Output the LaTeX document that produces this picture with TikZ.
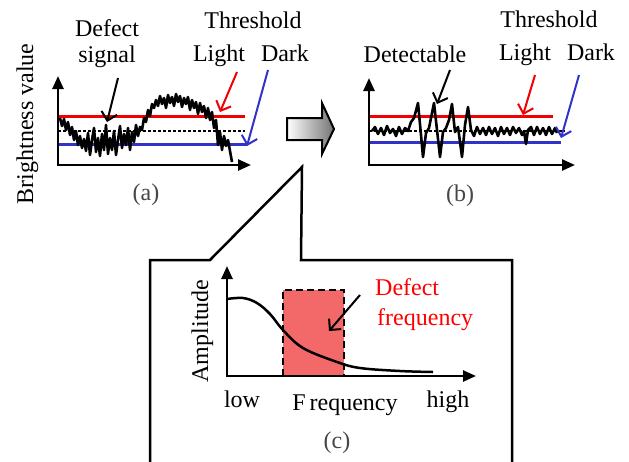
\documentclass[tikz,border=0pt]{standalone}
\usepackage{fontspec}
\setmainfont{Liberation Serif}
\usetikzlibrary{arrows.meta}
\definecolor{thrred}{RGB}{240,0,0}
\definecolor{thrblue}{RGB}{50,50,200}
\definecolor{defred}{RGB}{243,105,105}
\definecolor{lblgray}{RGB}{70,70,70}
\begin{document}
\begin{tikzpicture}[x=1pt,y=-1pt,
  txt/.style={font=\fontsize{24}{26}\selectfont, inner sep=0pt, anchor=base},
  lbl/.style={txt, text=lblgray},
  axis/.style={line width=2.5pt, -{Triangle[length=13pt,width=11pt]}},
  sig/.style={line width=2.6pt, line join=round},
  pointer/.style={line width=2pt, -{Straight Barb[length=8pt,width=16pt,line width=2pt]}},
  thr/.style={line width=3pt},
  callout/.style={line width=2.5pt, line join=miter},
]
\useasboundingbox (0,0) rectangle (629,461);

% ---------- panel (a) ----------
\draw[thr, thrred] (58,116) -- (245,116);
\draw[thr, thrblue] (58,144) -- (247,144);
\draw[line width=2pt, dash pattern=on 2.5pt off 2.5pt] (58,131) -- (245,131);
\draw[sig] (60,118) -- (62,126) -- (64,119) -- (66,130) -- (68,122) -- (70,135) -- (72,127) -- (74,140) -- (76,131) -- (78,145) -- (80,136) -- (82,148) -- (84,139) -- (86,151) -- (88,133) -- (90,155) -- (92,140) -- (94,128) -- (96,152) -- (98,138) -- (100,156) -- (102,134) -- (104,150) -- (106,125) -- (108,154) -- (110,138) -- (112,150) -- (114,131) -- (116,155) -- (118,140) -- (120,126) -- (122,148) -- (124,134) -- (126,145) -- (128,128) -- (130,150) -- (132,132) -- (134,142) -- (136,125) -- (138,136) -- (140,127) -- (142,130) -- (144,118) -- (146,122) -- (148,110) -- (150,116) -- (152,104) -- (154,108) -- (156,100) -- (158,106) -- (160,96) -- (162,104) -- (164,98) -- (166,108) -- (168,95) -- (170,103) -- (172,97) -- (174,106) -- (176,94) -- (178,102) -- (180,96) -- (182,107) -- (184,98) -- (186,104) -- (188,97) -- (190,110) -- (192,100) -- (194,108) -- (196,102) -- (198,114) -- (200,103) -- (202,112) -- (204,106) -- (206,118) -- (208,108) -- (210,120) -- (212,112) -- (214,128) -- (216,120) -- (218,145) -- (220,132) -- (222,150) -- (224,136) -- (226,146) -- (228,140) -- (232,162);
\draw[axis] (58,165) -- (58,76);
\draw[axis] (57,165) -- (251,165);

\node[txt] (defA) at (107,36) {Defect};
\node[txt] (sigA) at (107,62) {signal};
\node[txt] (thrA) at (253,28) {Threshold};
\node[txt] (lightA) at (219,61) {Light};
\node[txt] (darkA) at (285,61) {Dark};
\node[txt, rotate=90] (bright) at (33,124) {Brightness value};
\node[lbl] (la) at (146,200) {(a)};

\coordinate (pa1) at (118,78);  \coordinate (pa2) at (107,122);
\coordinate (ra1) at (237,72);  \coordinate (ra2) at (220,112);
\coordinate (ba1) at (268,70);  \coordinate (ba2) at (247,146);
\draw[pointer] (pa1) -- (pa2);
\draw[pointer, thrred] (ra1) -- (ra2);
\draw[pointer, thrblue] (ba1) -- (ba2);

% ---------- big arrow ----------
\shade[left color=white, right color=black!55, draw=black, line width=2pt, line join=miter]
  (287,118) -- (322,118) -- (322,103) -- (334,129) -- (322,154) -- (322,140) -- (287,140) -- cycle;

% ---------- panel (b) ----------
\draw[thr, thrred] (369,116) -- (553,116);
\draw[thr, thrblue] (369,142) -- (561,142);
\draw[line width=2pt, dash pattern=on 2.5pt off 2.5pt] (369,131) -- (565,131);
\draw[sig] (372,131) -- (375,127) -- (378,134) -- (381,128) -- (384,135) -- (387,126) -- (390,133) -- (393,129) -- (396,136) -- (399,127) -- (402,134) -- (405,128) -- (408,131) -- (411,122) -- (414,118) -- (418,103) -- (421,135) -- (423,157) -- (426,133) -- (429,128) -- (431,118) -- (434,103) -- (437,130) -- (440,157) -- (443,132) -- (446,128) -- (449,120) -- (452,104) -- (455,132) -- (458,127) -- (462,157) -- (465,125) -- (468,107) -- (471,130) -- (474,136) -- (477,127) -- (480,134) -- (483,128) -- (486,135) -- (489,127) -- (492,134) -- (495,128) -- (498,136) -- (501,127) -- (504,134) -- (507,128) -- (510,135) -- (513,127) -- (516,133) -- (519,128) -- (522,135) -- (524,131) -- (526,144) -- (528,130) -- (531,127) -- (534,135) -- (537,127) -- (540,134) -- (543,128) -- (546,135) -- (549,127) -- (552,134) -- (555,128) -- (557,133);
\draw[axis] (369,165) -- (369,78);
\draw[axis] (368,165) -- (575,165);

\node[txt] (detB) at (415,62) {Detectable};
\node[txt] (thrB) at (549,27) {Threshold};
\node[txt] (lightB) at (525,60) {Light};
\node[txt] (darkB) at (591,60) {Dark};
\node[lbl] (lb) at (460,201) {(b)};

\coordinate (pb1) at (450,70);  \coordinate (pb2) at (437,104);
\coordinate (rb1) at (535,75);  \coordinate (rb2) at (523,115);
\coordinate (bb1) at (579,75);  \coordinate (bb2) at (561,138);
\draw[pointer] (pb1) -- (pb2);
\draw[pointer, thrred] (rb1) -- (rb2);
\draw[pointer, thrblue] (bb1) -- (bb2);

% ---------- callout (c) ----------
\draw[callout] (150,466) -- (150,260) -- (210,260) -- (302,167) -- (301,260) -- (512,260) -- (512,466);

\fill[defred] (283,290) rectangle (344,376);
\draw[line width=2.5pt, dash pattern=on 7pt off 4pt] (283,376) -- (283,290) -- (344,290) -- (344,376);
\draw[line width=2.5pt] plot[smooth, tension=0.6] coordinates {(227,299) (243,298) (257,303) (270,314) (283,330) (303,348) (337,362) (360,368) (400,371) (433,372)};
\draw[axis] (227,376) -- (227,266);
\draw[axis] (226,376) -- (476,376);

\node[txt, text=red, anchor=base west] (defC) at (375,295) {Defect};
\node[txt, text=red, anchor=base west] (freqC) at (377,325) {frequency};
\coordinate (pc1) at (360,295); \coordinate (pc2) at (329,331);
\draw[pointer] (pc1) -- (pc2);
\node[txt, rotate=90] (ampl) at (208,331) {Amplitude};
\node[txt] (low) at (242,407) {low};
\node[txt] (freq) at (345,410) {F\,requency};
\node[txt] (high) at (448,407) {high};
\node[lbl] (lc) at (337,448) {(c)};
\end{tikzpicture}
\end{document}
